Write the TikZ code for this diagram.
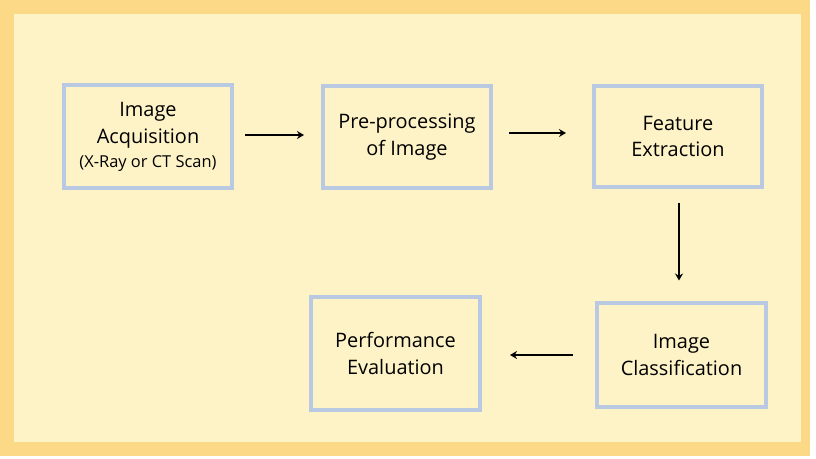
\documentclass[tikz,border=0pt]{standalone}
\usepackage{fontspec}
\setmainfont{Open Sans}
\usepackage{tikz}
\usetikzlibrary{arrows.meta,positioning}

\definecolor{framegold}{HTML}{FBD986}
\definecolor{paper}{HTML}{FEF3C6}
\definecolor{boxblue}{HTML}{B9C9E2}

\tikzset{
  stagebox/.style={draw=boxblue, line width=4bp, align=center, inner sep=0pt,
    minimum width=168bp, minimum height=103bp,
    font=\fontsize{20}{27}\selectfont},
  flow/.style={line width=1.6bp, -{Stealth[length=7bp,width=8bp]}}
}

\begin{document}
\begin{tikzpicture}[x=1bp,y=-1bp]
\useasboundingbox (0,0) rectangle (816,459);
\fill[white] (0,0) rectangle (816,459);
\fill[framegold] (0,0) rectangle (810,456);
\fill[paper] (14,14) rectangle (801,442);

\node[stagebox] (acq) at (148,136.5) {Image\\Acquisition\\[-3bp]{\fontsize{16.5}{20}\selectfont (X-Ray or CT Scan)}};
\node[stagebox, minimum height=102bp] (pre) at (407,137) {Pre-processing\\of Image};
\node[stagebox, minimum height=101bp] (feat) at (678,136.5) {Feature\\Extraction};
\node[stagebox, minimum width=169bp] (cls) at (681.5,355) {Image\\Classification};
\node[stagebox, minimum width=169bp, minimum height=113bp] (perf) at (395.5,353.5) {Performance\\Evaluation};

\draw[flow, shorten <=11bp, shorten >=17bp] ([yshift=1.5bp]acq.east) -- ([yshift=1.5bp]acq.east -| pre.west);
\draw[flow, shorten <=16bp, shorten >=26bp] ([yshift=4bp]pre.east) -- ([yshift=4bp]pre.east -| feat.west);
\draw[flow, shorten <=14bp, shorten >=21bp] ([xshift=1bp]feat.south) -- ([xshift=1bp]feat.south |- cls.north);
\draw[flow, shorten <=22bp, shorten >=28bp] (cls.west) -- (cls.west -| perf.east);
\end{tikzpicture}
\end{document}
